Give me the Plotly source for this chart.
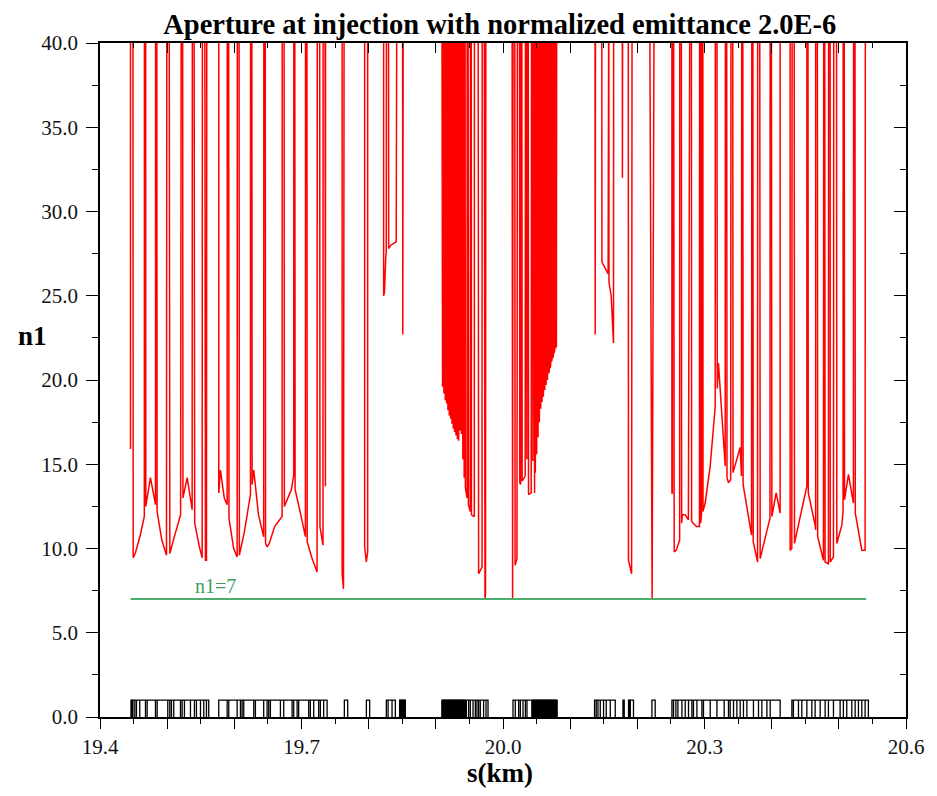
import plotly.graph_objects as go

TOP = 45.0  # aperture beyond the plotted range (drifts), clipped at 40

# ---- red n1 curve, left to right (s [km], n1) ----
arc_left = [
    (19.4454, 15.9), (19.4454, TOP), (19.4490, TOP), (19.4494, 9.45), (19.4525, 9.7), (19.4600, 10.8),
    (19.4660, 11.9), (19.4662, TOP), (19.4680, TOP), (19.4682, 12.5), (19.4751, 14.2), (19.4800, 13.0),
    (19.4826, 12.6), (19.4828, TOP), (19.4845, TOP), (19.4850, 12.2), (19.4920, 10.5), (19.4990, 9.6),
    (19.4995, TOP), (19.5030, TOP), (19.5040, 9.7), (19.5100, 10.6), (19.5200, 12.0), (19.5210, TOP),
    (19.5230, TOP), (19.5235, 13.0), (19.5298, 14.2), (19.5372, 12.3), (19.5375, TOP), (19.5400, TOP),
    (19.5410, 11.5), (19.5480, 10.1), (19.5521, 9.45), (19.5525, TOP), (19.5560, TOP), (19.5570, 9.3),
    (19.5585, 9.3), (19.5590, TOP),
    (19.5768, TOP), (19.5768, 13.3), (19.5793, 14.66), (19.5850, 13.0), (19.5893, 12.6), (19.5895, TOP),
    (19.5915, TOP), (19.5920, 11.8), (19.5990, 10.0), (19.6042, 9.5), (19.6045, TOP), (19.6070, TOP),
    (19.6075, 9.6), (19.6150, 11.0), (19.6240, 13.2), (19.6242, TOP), (19.6260, TOP), (19.6265, 13.8),
    (19.6289, 14.66), (19.6360, 12.0), (19.6437, 10.7), (19.6440, TOP), (19.6460, TOP), (19.6465, 10.3),
    (19.6488, 10.1), (19.6520, 10.3), (19.6600, 11.3), (19.6711, 11.9), (19.6713, TOP), (19.6740, TOP),
    (19.6745, 12.5), (19.6850, 13.5), (19.6884, 14.36), (19.6886, TOP), (19.6900, TOP), (19.6905, 13.5),
    (19.6935, 12.9), (19.7000, 11.8), (19.7058, 10.7), (19.7060, TOP), (19.7080, TOP), (19.7085, 10.4),
    (19.7150, 9.5), (19.7232, 8.6), (19.7235, TOP), (19.7270, TOP), (19.7275, 11.3), (19.7320, 10.2),
    (19.7322, TOP), (19.7350, TOP), (19.7356, 13.7), (19.7358, TOP),
    (19.7605, TOP), (19.7605, 8.5), (19.7625, 7.6), (19.7635, TOP),
    (19.7940, TOP), (19.7940, 10.1), (19.7965, 9.2), (19.7985, 9.8), (19.7985, TOP),
    (19.8223, TOP), (19.8223, 25.0), (19.8235, 25.2), (19.8255, 27.3), (19.8262, 27.6), (19.8265, TOP),
    (19.8295, TOP), (19.8298, 27.8), (19.8330, 28.0), (19.8410, 28.2), (19.8420, TOP),
    (19.8505, TOP), (19.8508, 22.7), (19.8515, TOP),
]

dense_left = [
    (19.9090, TOP), (19.9092, 19.8), (19.9100, 19.6), (19.9102, TOP),
    (19.9110, TOP), (19.9112, 19.4), (19.9120, 19.2), (19.9122, TOP),
    (19.9130, TOP), (19.9132, 19.0), (19.9140, 18.8), (19.9142, TOP),
    (19.9150, TOP), (19.9152, 18.7), (19.9160, 18.6), (19.9162, TOP),
    (19.9170, TOP), (19.9172, 18.4), (19.9180, 18.2), (19.9182, TOP),
    (19.9190, TOP), (19.9192, 18.0), (19.9200, 17.9), (19.9202, TOP),
    (19.9210, TOP), (19.9212, 17.8), (19.9220, 17.7), (19.9222, TOP),
    (19.9230, TOP), (19.9232, 17.5), (19.9240, 17.4), (19.9242, TOP),
    (19.9250, TOP), (19.9252, 17.2), (19.9260, 17.1), (19.9262, TOP),
    (19.9270, TOP), (19.9272, 17.0), (19.9280, 16.9), (19.9282, TOP),
    (19.9290, TOP), (19.9292, 16.8), (19.9300, 16.7), (19.9302, TOP),
    (19.9310, TOP), (19.9312, 16.6), (19.9320, 16.5), (19.9322, TOP),
    (19.9330, TOP), (19.9332, 16.4), (19.9340, 16.4), (19.9342, TOP),
    (19.9350, TOP), (19.9352, 17.0), (19.9360, 17.0), (19.9362, TOP),
    (19.9370, TOP), (19.9372, 16.9), (19.9380, 16.8), (19.9382, TOP),
    (19.9390, TOP), (19.9392, 16.2), (19.9402, 15.3), (19.9404, TOP),
    (19.9410, TOP), (19.9412, 14.6), (19.9422, 14.2), (19.9424, TOP),
    (19.9435, TOP), (19.9440, 13.6), (19.9465, 13.0), (19.9467, TOP),
    (19.9480, TOP), (19.9485, 12.6), (19.9513, 12.2), (19.9515, TOP),
    (19.9528, TOP), (19.9530, 12.0), (19.9573, 11.9), (19.9575, TOP),
    (19.9630, TOP), (19.9637, 8.5), (19.9688, 8.9), (19.9690, TOP),
    (19.9720, TOP), (19.9732, 7.0), (19.9740, 7.3), (19.9745, TOP),
]

dense_right = [
    (20.0135, TOP), (20.0143, 7.0), (20.0150, TOP),
    (20.0175, TOP), (20.0180, 9.0), (20.0208, 9.4), (20.0215, TOP),
    (20.0245, TOP), (20.0250, 13.9), (20.0262, 13.8), (20.0265, TOP),
    (20.0280, TOP), (20.0285, 14.0), (20.0330, 14.3), (20.0335, TOP),
    (20.0350, TOP), (20.0355, 15.3), (20.0360, TOP),
    (20.0375, TOP), (20.0380, 13.2), (20.0420, 13.3), (20.0425, TOP),
    (20.0440, TOP), (20.0445, 15.2), (20.0450, TOP),
    (20.0460, TOP), (20.0462, 13.4), (20.0470, 13.3), (20.0472, TOP),
    (20.0480, TOP), (20.0482, 14.5), (20.0490, 15.0), (20.0492, TOP),
    (20.0500, TOP), (20.0502, 15.6), (20.0510, 16.1), (20.0512, TOP),
    (20.0520, TOP), (20.0522, 16.6), (20.0530, 17.0), (20.0532, TOP),
    (20.0540, TOP), (20.0542, 17.5), (20.0550, 18.0), (20.0552, TOP),
    (20.0560, TOP), (20.0562, 18.3), (20.0570, 18.5), (20.0572, TOP),
    (20.0580, TOP), (20.0582, 18.7), (20.0590, 18.9), (20.0592, TOP),
    (20.0600, TOP), (20.0602, 19.0), (20.0610, 19.2), (20.0612, TOP),
    (20.0620, TOP), (20.0622, 19.4), (20.0630, 19.6), (20.0632, TOP),
    (20.0640, TOP), (20.0642, 19.7), (20.0650, 19.9), (20.0652, TOP),
    (20.0660, TOP), (20.0662, 20.0), (20.0670, 20.2), (20.0672, TOP),
    (20.0680, TOP), (20.0682, 20.4), (20.0690, 20.6), (20.0692, TOP),
    (20.0700, TOP), (20.0702, 20.7), (20.0710, 20.9), (20.0712, TOP),
    (20.0720, TOP), (20.0722, 21.1), (20.0730, 21.2), (20.0732, TOP),
    (20.0740, TOP), (20.0742, 21.3), (20.0750, 21.5), (20.0752, TOP),
    (20.0760, TOP), (20.0762, 21.6), (20.0770, 21.8), (20.0772, TOP),
    (20.0780, TOP), (20.0782, 21.9), (20.0795, 22.0), (20.0800, TOP),
]

middle = [
    (20.1370, TOP), (20.1373, 22.7), (20.1378, TOP),
    (20.1470, TOP), (20.1473, 27.0), (20.1565, 26.3), (20.1568, TOP), (20.1575, TOP), (20.1578, 25.8),
    (20.1610, 25.0), (20.1645, 22.2), (20.1648, TOP),
    (20.1775, TOP), (20.1778, 32.0), (20.1782, TOP),
    (20.1865, TOP), (20.1868, 9.3), (20.1915, 8.5), (20.1922, TOP),
    (20.2182, TOP), (20.2210, 7.2), (20.2220, 7.0), (20.2252, TOP),
]

arc_right = [
    (20.2515, TOP), (20.2515, 13.3), (20.2522, 13.3), (20.2522, TOP), (20.2540, TOP), (20.2549, 9.8),
    (20.2580, 9.9), (20.2630, 10.5), (20.2632, TOP), (20.2655, TOP), (20.2660, 11.5), (20.2670, 12.0),
    (20.2713, 12.0), (20.2760, 11.7), (20.2783, TOP), (20.2805, TOP), (20.2808, 11.6), (20.2880, 11.3),
    (20.2925, 11.3), (20.2927, TOP), (20.2940, TOP), (20.2942, 11.5), (20.2955, 12.0), (20.2960, TOP),
    (20.2975, TOP), (20.2978, 12.2), (20.3010, 12.7), (20.3085, 14.9), (20.3159, 18.4), (20.3162, TOP),
    (20.3185, TOP), (20.3190, 19.5), (20.3208, 21.0), (20.3223, 20.0), (20.3308, 14.9), (20.3312, TOP),
    (20.3330, TOP), (20.3335, 14.2), (20.3357, 13.9), (20.3390, 14.1), (20.3395, TOP), (20.3420, TOP),
    (20.3425, 14.5), (20.3531, 16.0), (20.3550, 14.3), (20.3555, TOP), (20.3570, TOP), (20.3575, 13.8),
    (20.3680, 11.3), (20.3700, 10.8), (20.3705, TOP), (20.3720, TOP), (20.3725, 10.4), (20.3780, 9.2),
    (20.3790, 9.2), (20.3792, TOP), (20.3822, TOP), (20.3829, 9.4), (20.3952, 11.3), (20.3975, 11.8),
    (20.3978, TOP), (20.3995, TOP), (20.4003, 11.9), (20.4067, 13.3), (20.4126, 12.1), (20.4126, TOP),
    (20.4275, TOP), (20.4275, 9.9), (20.4300, 10.0), (20.4305, TOP), (20.4335, TOP), (20.4340, 10.3),
    (20.4350, 10.5), (20.4524, 13.7), (20.4525, TOP), (20.4540, TOP), (20.4545, 13.3), (20.4647, 11.4),
    (20.4655, 11.1), (20.4655, TOP), (20.4680, TOP), (20.4685, 10.7), (20.4771, 9.3), (20.4775, TOP),
    (20.4790, TOP), (20.4795, 9.2), (20.4845, 9.1), (20.4848, TOP), (20.4870, TOP), (20.4872, 9.2),
    (20.4920, 9.5), (20.4925, TOP), (20.4965, TOP), (20.4970, 10.3), (20.5045, 11.4), (20.5063, 12.2),
    (20.5065, TOP), (20.5080, TOP), (20.5085, 12.9), (20.5143, 14.4), (20.5217, 12.7), (20.5220, TOP),
    (20.5240, TOP), (20.5245, 12.1), (20.5342, 9.9), (20.5391, 9.9), (20.5395, TOP),
]

# ---- n1 = 7 reference line ----
limit_s = [19.4454, 20.5406]
limit_n1 = [7.0, 7.0]

# ---- lattice elements drawn at the bottom (edges in s, height 0..1) ----
element_groups = [
    [19.4464, 19.4488, 19.4518, 19.4543, 19.4592, 19.4677, 19.4702, 19.4826, 19.4851, 19.5009, 19.5039,
     19.5064, 19.5098, 19.5198, 19.5223, 19.5257, 19.5347, 19.5406, 19.5436, 19.5496, 19.5545, 19.5585, 19.5619],
    [19.5768, 19.5893, 19.5917, 19.6042, 19.6091, 19.6116, 19.6140, 19.6289, 19.6314, 19.6437, 19.6488,
     19.6512, 19.6537, 19.6686, 19.6735, 19.6860, 19.6884, 19.6935, 19.6958, 19.7107, 19.7132, 19.7182,
     19.7256, 19.7281, 19.7330, 19.7381],
    [19.7638, 19.7688],
    [19.7966, 19.8015],
    [19.8263, 19.8289, 19.8348, 19.8397],
    [19.8461, 19.8545],
    [19.9092, 19.9439, 19.9454, 19.9488, 19.9513, 19.9554, 19.9588, 19.9612, 19.9637, 19.9662, 19.9711,
     19.9747, 19.9777],
    [20.0149, 20.0183, 20.0233, 20.0258, 20.0298, 20.0333, 20.0357, 20.0432, 20.0804],
    [20.1363, 20.1388, 20.1414, 20.1448, 20.1497, 20.1537, 20.1597, 20.1671],
    [20.1786, 20.1805],
    [20.1869, 20.1894, 20.1943],
    [20.2217, 20.2266],
    [20.2515, 20.2539, 20.2574, 20.2604, 20.2664, 20.2713, 20.2762, 20.2812, 20.2836, 20.2887, 20.2961,
     20.2985, 20.3085, 20.3185, 20.3293, 20.3357, 20.3382, 20.3432, 20.3482, 20.3531, 20.3580, 20.3631,
     20.3729, 20.3804, 20.3854, 20.3929, 20.3978, 20.4126],
    [20.4301, 20.4324, 20.4399, 20.4449, 20.4524, 20.4598, 20.4647, 20.4722, 20.4796, 20.4845, 20.4920,
     20.5019, 20.5068, 20.5118, 20.5193, 20.5243, 20.5292, 20.5342, 20.5391, 20.5440],
]
solid_blocks = [(19.8461, 19.8545), (19.9092, 19.9439), (20.0432, 20.0804), (19.4464, 19.4488),
                (20.1869, 20.1894)]
element_height = 1.0

# ---- axis ticks ----
x_major = [19.4, 19.5, 19.6, 19.7, 19.8, 19.9, 20.0, 20.1, 20.2, 20.3, 20.4, 20.5, 20.6]
x_labels = ["19.4", "", "", "19.7", "", "", "20.0", "", "", "20.3", "", "", "20.6"]
y_major = [0, 5, 10, 15, 20, 25, 30, 35, 40]
y_labels = ["0.0", "5.0", "10.0", "15.0", "20.0", "25.0", "30.0", "35.0", "40.0"]

SERIF = "Liberation Serif, Times New Roman, serif"

fig = go.Figure()

curve = arc_left + dense_left + dense_right + middle + arc_right
fig.add_trace(go.Scatter(x=[p[0] for p in curve], y=[p[1] for p in curve], mode="lines",
                         line=dict(color="#ff0000", width=1.5), hoverinfo="skip"))

fig.add_trace(go.Scatter(x=limit_s, y=limit_n1, mode="lines",
                         line=dict(color="#4fae6e", width=2), hoverinfo="skip"))

# element outlines
ex, ey = [], []
for g in element_groups:
    ex += [g[0], g[0]]
    ey += [0, element_height]
    for e in g[1:]:
        ex += [e, e, e]
        ey += [element_height, 0, element_height]
    ex += [g[-1], None]
    ey += [0, None]
fig.add_trace(go.Scatter(x=ex, y=ey, mode="lines", line=dict(color="black", width=1.3),
                         hoverinfo="skip"))
for a, b in solid_blocks:
    fig.add_trace(go.Scatter(x=[a, b, b, a, a], y=[0, 0, element_height, element_height, 0],
                             mode="lines", fill="toself", fillcolor="black",
                             line=dict(color="black", width=1), hoverinfo="skip"))

# invisible trace for mirrored (top/right) axes
fig.add_trace(go.Scatter(x=[19.4, 20.6], y=[0, 40], xaxis="x2", yaxis="y2", mode="markers",
                         marker=dict(opacity=0), hoverinfo="skip"))

tickfont = dict(family=SERIF, size=21, color="#111111")
xaxis_common = dict(range=[19.4, 20.6], tickmode="array", tickvals=x_major, showgrid=False,
                    zeroline=False, showline=True, linecolor="black", linewidth=1.5,
                    tickwidth=1.3, tickcolor="black", ticklen=10, automargin=False)
yaxis_common = dict(range=[0, 40], tickmode="array", tickvals=y_major, showgrid=False,
                    zeroline=False, showline=True, linecolor="black", linewidth=1.5,
                    tickwidth=1.3, tickcolor="black", ticklen=12, automargin=False)

# the page body adds an 8 px offset, so the figure is sized to leave room for it
fig.update_layout(
    width=921, height=780,
    margin=dict(l=92, r=23, t=35, b=71, autoexpand=False),
    paper_bgcolor="white", plot_bgcolor="white",
    showlegend=False,
    xaxis=dict(**xaxis_common, ticks="outside", ticktext=x_labels, tickfont=tickfont,
               minor=dict(tickmode="linear", tick0=19.4, dtick=0.05, ticks="outside", ticklen=5,
                          tickwidth=1.2, tickcolor="black", showgrid=False)),
    yaxis=dict(**yaxis_common, ticks="outside", ticktext=y_labels, tickfont=tickfont,
               ticklabelstandoff=4,
               minor=dict(tickmode="linear", tick0=0, dtick=2.5, ticks="outside", ticklen=6,
                          tickwidth=1.2, tickcolor="black", showgrid=False)),
    xaxis2=dict(**xaxis_common, overlaying="x", side="top", ticks="inside", showticklabels=False,
                minor=dict(tickmode="linear", tick0=19.4, dtick=0.05, ticks="inside", ticklen=5,
                           tickwidth=1.2, tickcolor="black", showgrid=False)),
    yaxis2=dict(**yaxis_common, overlaying="y", side="right", ticks="inside", showticklabels=False,
                minor=dict(tickmode="linear", tick0=0, dtick=2.5, ticks="inside", ticklen=6,
                           tickwidth=1.2, tickcolor="black", showgrid=False)),
    title=dict(text="<b>Aperture at injection with normalized emittance 2.0E-6</b>",
               font=dict(family=SERIF, size=28.5, color="black"),
               x=0.496, xref="paper", xanchor="center", y=0.9795, yref="container", yanchor="middle"),
    annotations=[
        dict(text="<b>n1</b>", x=-0.084, y=0.565, xref="paper", yref="paper", showarrow=False,
             xanchor="center", yanchor="middle", font=dict(family=SERIF, size=27, color="black")),
        dict(text="<b>s(km)</b>", x=0.496, y=-0.083, xref="paper", yref="paper", showarrow=False,
             xanchor="center", yanchor="middle", font=dict(family=SERIF, size=27, color="black")),
        dict(text="n1=7", x=19.572, y=7.8, xref="x", yref="y", showarrow=False,
             xanchor="center", yanchor="middle", font=dict(family=SERIF, size=20, color="#3e9e5e")),
    ],
)

fig.write_html("out.html")
